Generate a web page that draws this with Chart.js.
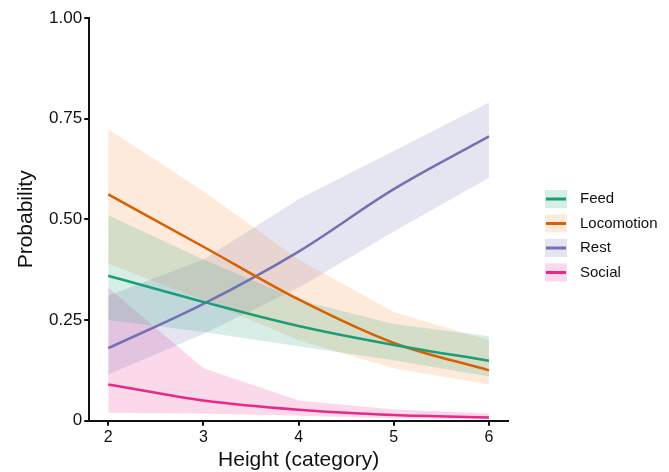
<!DOCTYPE html>
<html>
<head>
<meta charset="utf-8">
<script src="https://cdn.jsdelivr.net/npm/chart.js@4.4.1/dist/chart.umd.min.js"></script>
<style>
  html, body { margin: 0; padding: 0; background: #fff; }
  #wrap { width: 669px; height: 472px; }
</style>
</head>
<body>
<div id="wrap"><canvas id="chart" width="669" height="472"></canvas></div>
<script>
// heights on the x axis
const heights = [2, 3, 4, 5, 6];

// fitted probabilities with lower / upper bands
const feed = [0.36, 0.295, 0.235, 0.188, 0.149];
const feedLo = [0.25, 0.22, 0.185, 0.15, 0.11];
const feedHi = [0.51, 0.40, 0.30, 0.24, 0.21];

const loco = [0.562, 0.432, 0.301, 0.193, 0.125];
const locoLo = [0.39, 0.30, 0.20, 0.13, 0.09];
const locoHi = [0.724, 0.57, 0.40, 0.27, 0.20];

const rest = [0.18, 0.29, 0.42, 0.575, 0.706];
const restLo = [0.115, 0.215, 0.33, 0.47, 0.603];
const restHi = [0.31, 0.40, 0.55, 0.67, 0.79];

const social = [0.09, 0.05, 0.027, 0.014, 0.008];
const socialLo = [0.02, 0.018, 0.012, 0.006, 0.003];
const socialHi = [0.33, 0.13, 0.05, 0.028, 0.018];

const yTicks = [0, 0.25, 0.5, 0.75, 1];
const yTickLabels = ["0", "0.25", "0.50", "0.75", "1.00"];

const series = [
  { name: "Feed", mid: feed, lo: feedLo, hi: feedHi, color: "#1b9e77", band: "rgba(27,158,119,0.18)" },
  { name: "Locomotion", mid: loco, lo: locoLo, hi: locoHi, color: "#d95f02", band: "rgba(245,130,40,0.17)" },
  { name: "Rest", mid: rest, lo: restLo, hi: restHi, color: "#7570b3", band: "rgba(117,112,179,0.19)" },
  { name: "Social", mid: social, lo: socialLo, hi: socialHi, color: "#e7298a", band: "rgba(231,41,138,0.18)" }
];

const pts = (arr) => arr.map((v, i) => ({ x: heights[i], y: v }));

const datasets = [];
series.forEach((s) => {
  datasets.push({
    label: s.name + " hi",
    data: pts(s.hi),
    borderWidth: 0,
    pointRadius: 0,
    backgroundColor: s.band,
    fill: "+1",
    order: 2
  });
  datasets.push({
    label: s.name + " lo",
    data: pts(s.lo),
    borderWidth: 0,
    pointRadius: 0,
    fill: false,
    order: 2
  });
});
series.forEach((s) => {
  datasets.push({
    label: s.name,
    data: pts(s.mid),
    borderColor: s.color,
    borderWidth: 2.5,
    pointRadius: 0,
    fill: false,
    cubicInterpolationMode: "monotone",
    order: 1
  });
});

const legendPlugin = {
  id: "sideLegend",
  afterDraw(chart) {
    const ctx = chart.ctx;
    ctx.save();
    series.forEach((s, i) => {
      const y = 199 + i * 24.5;
      ctx.fillStyle = s.band;
      ctx.fillRect(545, y - 9, 22, 18);
      ctx.strokeStyle = s.color;
      ctx.lineWidth = 3;
      ctx.beginPath();
      ctx.moveTo(546, y);
      ctx.lineTo(566, y);
      ctx.stroke();
      ctx.fillStyle = "#111";
      ctx.font = "15px 'Liberation Sans', Arial, sans-serif";
      ctx.textBaseline = "middle";
      ctx.fillText(s.name, 580, y);
    });
    ctx.restore();
  }
};

Chart.defaults.font.family = "'Liberation Sans', Arial, sans-serif";
Chart.defaults.color = "#111";

new Chart(document.getElementById("chart"), {
  type: "line",
  data: { datasets: datasets },
  options: {
    responsive: false,
    animation: false,
    layout: { padding: { left: 15, right: 161, top: 18, bottom: 0 } },
    plugins: {
      legend: { display: false },
      tooltip: { enabled: false }
    },
    scales: {
      x: {
        type: "linear",
        min: 1.8,
        max: 6.2,
        afterBuildTicks: (axis) => { axis.ticks = heights.map((v) => ({ value: v })); },
        ticks: { font: { size: 16 }, color: "#111", padding: 2 },
        grid: { display: true, drawOnChartArea: false, drawTicks: true, tickLength: 5, color: "#111", lineWidth: 2 },
        border: { display: true, color: "#111", width: 2 },
        title: { display: true, text: "Height (category)", font: { size: 21, lineHeight: 1.1 }, color: "#111", padding: { top: 0, bottom: 0 } }
      },
      y: {
        min: 0,
        max: 1,
        afterBuildTicks: (axis) => { axis.ticks = yTicks.map((v) => ({ value: v })); },
        ticks: {
          font: { size: 17 },
          color: "#111",
          padding: 2,
          callback: (v) => yTickLabels[yTicks.indexOf(v)]
        },
        grid: { display: true, drawOnChartArea: false, drawTicks: true, tickLength: 5, color: "#111", lineWidth: 2 },
        border: { display: true, color: "#111", width: 2 },
        title: { display: true, text: "Probability", font: { size: 21, lineHeight: 1.1 }, color: "#111", padding: { top: 0, bottom: 9 } }
      }
    }
  },
  plugins: [legendPlugin]
});
</script>
</body>
</html>
